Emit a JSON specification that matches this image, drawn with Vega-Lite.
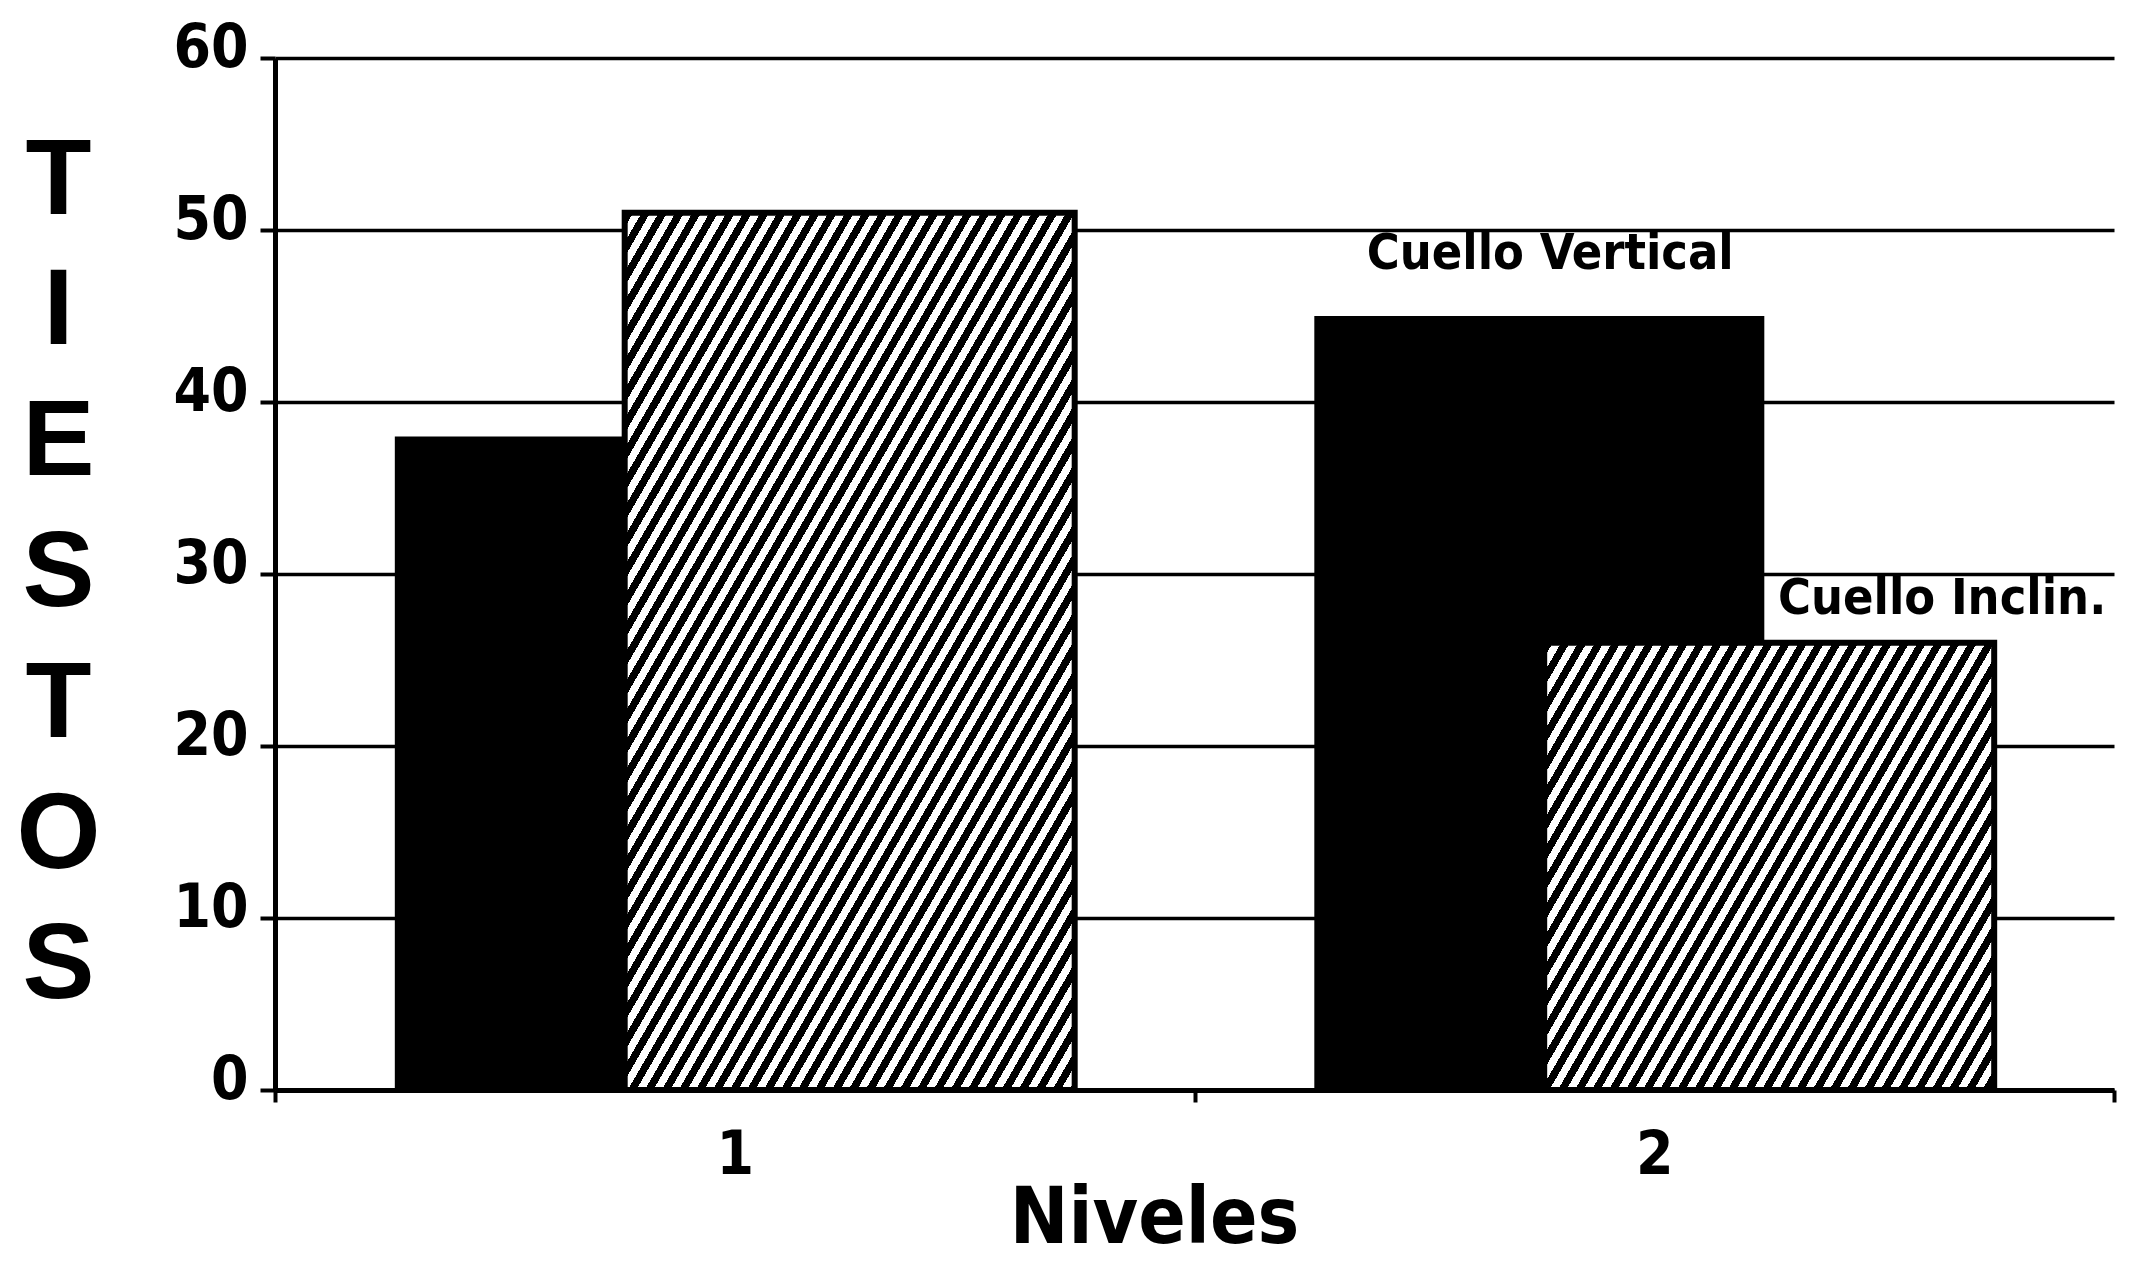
{
"$schema": "https://vega.github.io/schema/vega-lite/v6.json",
"width": 1839,
"height": 1032,
"autosize": {"type": "none"},
"padding": {"left": 275, "top": 58, "right": 16, "bottom": 182},
"background": "white",
"config": {"view": {"stroke": null}, "font": "DejaVu Sans Condensed, Liberation Sans Narrow, Roboto, Liberation Sans, sans-serif"},
"data": {"values": [
 {"Nivel": "1", "serie": "Cuello Vertical", "Tiestos": 38},
 {"Nivel": "2", "serie": "Cuello Vertical", "Tiestos": 45},
 {"Nivel": "1", "serie": "Cuello Inclin.", "Tiestos": 51},
 {"Nivel": "2", "serie": "Cuello Inclin.", "Tiestos": 26}
]},
"layer": [
 {
  "mark": {"type": "bar", "width": 450, "stroke": "#000"},
  "encoding": {
   "x": {"field": "Nivel", "type": "nominal", "scale": {"paddingInner": 0, "paddingOuter": 0},
    "axis": {"labelAngle": 0, "labelFont": "DejaVu Sans Condensed, Liberation Sans Narrow, Roboto, Liberation Sans, sans-serif", "labelFontSize": 60, "labelFontWeight": "bold", "labelColor": "#000", "labelPadding": 24,
     "tickBand": "extent", "tickColor": "#000", "tickWidth": 4, "tickSize": 12, "domainColor": "#000", "domainWidth": 5,
     "title": "Niveles", "titleFont": "DejaVu Sans Condensed, Liberation Sans Narrow, Roboto, Liberation Sans, sans-serif", "titleFontSize": 78, "titleFontWeight": "bold", "titleColor": "#000", "titleX": 879, "titleY": 152, "titleBaseline": "alphabetic", "titleAlign": "center"}},
   "xOffset": {"field": "serie", "type": "nominal", "sort": ["Cuello Vertical", "Cuello Inclin."], "scale": {"paddingInner": 0, "paddingOuter": 1}},
   "y": {"field": "Tiestos", "type": "quantitative", "stack": null, "scale": {"domain": [0, 60], "nice": false},
    "axis": {"values": [0, 10, 20, 30, 40, 50, 60], "grid": true, "gridColor": "#000", "gridWidth": 3.5, "gridOpacity": 1,
     "domainColor": "#000", "domainWidth": 5, "tickColor": "#000", "tickWidth": 4, "tickSize": 15,
     "labelFont": "DejaVu Sans Condensed, Liberation Sans Narrow, Roboto, Liberation Sans, sans-serif", "labelFontSize": 60, "labelFontWeight": "bold", "labelColor": "#000", "labelPadding": 12, "labelOffset": -10, "labelFlush": false,
     "title": ["T", "I", "E", "S", "T", "O", "S"], "titleFont": "Liberation Sans, Arial, sans-serif", "titleFontSize": 108, "titleFontWeight": "bold", "titleColor": "#000",
     "titleAngle": 0, "titleAlign": "center", "titleBaseline": "middle", "titleLineHeight": 130.8, "titleX": -217, "titleY": 123}},
   "strokeWidth": {"condition": {"test": "datum.serie === 'Cuello Vertical'", "value": 0}, "value": 6},
   "fill": {"condition": [
     {"test": "datum.serie === 'Cuello Inclin.' && datum.Nivel === '1'", "value": {"gradient": "linear", "x1": 0, "y1": 0, "x2": 1.0407, "y2": 1.171, "stops": [
{"offset":0,"color":"#000"},
{"offset":0.008,"color":"#000"},{"offset":0.008,"color":"#fff"},
{"offset":0.016,"color":"#fff"},{"offset":0.016,"color":"#000"},
{"offset":0.024,"color":"#000"},{"offset":0.024,"color":"#fff"},
{"offset":0.032,"color":"#fff"},{"offset":0.032,"color":"#000"},
{"offset":0.04,"color":"#000"},{"offset":0.04,"color":"#fff"},
{"offset":0.048,"color":"#fff"},{"offset":0.048,"color":"#000"},
{"offset":0.056,"color":"#000"},{"offset":0.056,"color":"#fff"},
{"offset":0.064,"color":"#fff"},{"offset":0.064,"color":"#000"},
{"offset":0.072,"color":"#000"},{"offset":0.072,"color":"#fff"},
{"offset":0.08,"color":"#fff"},{"offset":0.08,"color":"#000"},
{"offset":0.088,"color":"#000"},{"offset":0.088,"color":"#fff"},
{"offset":0.096,"color":"#fff"},{"offset":0.096,"color":"#000"},
{"offset":0.104,"color":"#000"},{"offset":0.104,"color":"#fff"},
{"offset":0.112,"color":"#fff"},{"offset":0.112,"color":"#000"},
{"offset":0.12,"color":"#000"},{"offset":0.12,"color":"#fff"},
{"offset":0.128,"color":"#fff"},{"offset":0.128,"color":"#000"},
{"offset":0.136,"color":"#000"},{"offset":0.136,"color":"#fff"},
{"offset":0.144,"color":"#fff"},{"offset":0.144,"color":"#000"},
{"offset":0.152,"color":"#000"},{"offset":0.152,"color":"#fff"},
{"offset":0.16,"color":"#fff"},{"offset":0.16,"color":"#000"},
{"offset":0.168,"color":"#000"},{"offset":0.168,"color":"#fff"},
{"offset":0.176,"color":"#fff"},{"offset":0.176,"color":"#000"},
{"offset":0.184,"color":"#000"},{"offset":0.184,"color":"#fff"},
{"offset":0.192,"color":"#fff"},{"offset":0.192,"color":"#000"},
{"offset":0.2,"color":"#000"},{"offset":0.2,"color":"#fff"},
{"offset":0.208,"color":"#fff"},{"offset":0.208,"color":"#000"},
{"offset":0.216,"color":"#000"},{"offset":0.216,"color":"#fff"},
{"offset":0.224,"color":"#fff"},{"offset":0.224,"color":"#000"},
{"offset":0.232,"color":"#000"},{"offset":0.232,"color":"#fff"},
{"offset":0.24,"color":"#fff"},{"offset":0.24,"color":"#000"},
{"offset":0.248,"color":"#000"},{"offset":0.248,"color":"#fff"},
{"offset":0.256,"color":"#fff"},{"offset":0.256,"color":"#000"},
{"offset":0.264,"color":"#000"},{"offset":0.264,"color":"#fff"},
{"offset":0.272,"color":"#fff"},{"offset":0.272,"color":"#000"},
{"offset":0.28,"color":"#000"},{"offset":0.28,"color":"#fff"},
{"offset":0.288,"color":"#fff"},{"offset":0.288,"color":"#000"},
{"offset":0.296,"color":"#000"},{"offset":0.296,"color":"#fff"},
{"offset":0.304,"color":"#fff"},{"offset":0.304,"color":"#000"},
{"offset":0.312,"color":"#000"},{"offset":0.312,"color":"#fff"},
{"offset":0.32,"color":"#fff"},{"offset":0.32,"color":"#000"},
{"offset":0.328,"color":"#000"},{"offset":0.328,"color":"#fff"},
{"offset":0.336,"color":"#fff"},{"offset":0.336,"color":"#000"},
{"offset":0.344,"color":"#000"},{"offset":0.344,"color":"#fff"},
{"offset":0.352,"color":"#fff"},{"offset":0.352,"color":"#000"},
{"offset":0.36,"color":"#000"},{"offset":0.36,"color":"#fff"},
{"offset":0.368,"color":"#fff"},{"offset":0.368,"color":"#000"},
{"offset":0.376,"color":"#000"},{"offset":0.376,"color":"#fff"},
{"offset":0.384,"color":"#fff"},{"offset":0.384,"color":"#000"},
{"offset":0.392,"color":"#000"},{"offset":0.392,"color":"#fff"},
{"offset":0.4,"color":"#fff"},{"offset":0.4,"color":"#000"},
{"offset":0.408,"color":"#000"},{"offset":0.408,"color":"#fff"},
{"offset":0.416,"color":"#fff"},{"offset":0.416,"color":"#000"},
{"offset":0.424,"color":"#000"},{"offset":0.424,"color":"#fff"},
{"offset":0.432,"color":"#fff"},{"offset":0.432,"color":"#000"},
{"offset":0.44,"color":"#000"},{"offset":0.44,"color":"#fff"},
{"offset":0.448,"color":"#fff"},{"offset":0.448,"color":"#000"},
{"offset":0.456,"color":"#000"},{"offset":0.456,"color":"#fff"},
{"offset":0.464,"color":"#fff"},{"offset":0.464,"color":"#000"},
{"offset":0.472,"color":"#000"},{"offset":0.472,"color":"#fff"},
{"offset":0.48,"color":"#fff"},{"offset":0.48,"color":"#000"},
{"offset":0.488,"color":"#000"},{"offset":0.488,"color":"#fff"},
{"offset":0.496,"color":"#fff"},{"offset":0.496,"color":"#000"},
{"offset":0.504,"color":"#000"},{"offset":0.504,"color":"#fff"},
{"offset":0.512,"color":"#fff"},{"offset":0.512,"color":"#000"},
{"offset":0.52,"color":"#000"},{"offset":0.52,"color":"#fff"},
{"offset":0.528,"color":"#fff"},{"offset":0.528,"color":"#000"},
{"offset":0.536,"color":"#000"},{"offset":0.536,"color":"#fff"},
{"offset":0.544,"color":"#fff"},{"offset":0.544,"color":"#000"},
{"offset":0.552,"color":"#000"},{"offset":0.552,"color":"#fff"},
{"offset":0.56,"color":"#fff"},{"offset":0.56,"color":"#000"},
{"offset":0.568,"color":"#000"},{"offset":0.568,"color":"#fff"},
{"offset":0.576,"color":"#fff"},{"offset":0.576,"color":"#000"},
{"offset":0.584,"color":"#000"},{"offset":0.584,"color":"#fff"},
{"offset":0.592,"color":"#fff"},{"offset":0.592,"color":"#000"},
{"offset":0.6,"color":"#000"},{"offset":0.6,"color":"#fff"},
{"offset":0.608,"color":"#fff"},{"offset":0.608,"color":"#000"},
{"offset":0.616,"color":"#000"},{"offset":0.616,"color":"#fff"},
{"offset":0.624,"color":"#fff"},{"offset":0.624,"color":"#000"},
{"offset":0.632,"color":"#000"},{"offset":0.632,"color":"#fff"},
{"offset":0.64,"color":"#fff"},{"offset":0.64,"color":"#000"},
{"offset":0.648,"color":"#000"},{"offset":0.648,"color":"#fff"},
{"offset":0.656,"color":"#fff"},{"offset":0.656,"color":"#000"},
{"offset":0.664,"color":"#000"},{"offset":0.664,"color":"#fff"},
{"offset":0.672,"color":"#fff"},{"offset":0.672,"color":"#000"},
{"offset":0.68,"color":"#000"},{"offset":0.68,"color":"#fff"},
{"offset":0.688,"color":"#fff"},{"offset":0.688,"color":"#000"},
{"offset":0.696,"color":"#000"},{"offset":0.696,"color":"#fff"},
{"offset":0.704,"color":"#fff"},{"offset":0.704,"color":"#000"},
{"offset":0.712,"color":"#000"},{"offset":0.712,"color":"#fff"},
{"offset":0.72,"color":"#fff"},{"offset":0.72,"color":"#000"},
{"offset":0.728,"color":"#000"},{"offset":0.728,"color":"#fff"},
{"offset":0.736,"color":"#fff"},{"offset":0.736,"color":"#000"},
{"offset":0.744,"color":"#000"},{"offset":0.744,"color":"#fff"},
{"offset":0.752,"color":"#fff"},{"offset":0.752,"color":"#000"},
{"offset":0.76,"color":"#000"},{"offset":0.76,"color":"#fff"},
{"offset":0.768,"color":"#fff"},{"offset":0.768,"color":"#000"},
{"offset":0.776,"color":"#000"},{"offset":0.776,"color":"#fff"},
{"offset":0.784,"color":"#fff"},{"offset":0.784,"color":"#000"},
{"offset":0.792,"color":"#000"},{"offset":0.792,"color":"#fff"},
{"offset":0.8,"color":"#fff"},{"offset":0.8,"color":"#000"},
{"offset":0.808,"color":"#000"},{"offset":0.808,"color":"#fff"},
{"offset":0.816,"color":"#fff"},{"offset":0.816,"color":"#000"},
{"offset":0.824,"color":"#000"},{"offset":0.824,"color":"#fff"},
{"offset":0.832,"color":"#fff"},{"offset":0.832,"color":"#000"},
{"offset":0.84,"color":"#000"},{"offset":0.84,"color":"#fff"},
{"offset":0.848,"color":"#fff"},{"offset":0.848,"color":"#000"},
{"offset":0.856,"color":"#000"},{"offset":0.856,"color":"#fff"},
{"offset":0.864,"color":"#fff"},{"offset":0.864,"color":"#000"},
{"offset":0.872,"color":"#000"},{"offset":0.872,"color":"#fff"},
{"offset":0.88,"color":"#fff"},{"offset":0.88,"color":"#000"},
{"offset":0.888,"color":"#000"},{"offset":0.888,"color":"#fff"},
{"offset":0.896,"color":"#fff"},{"offset":0.896,"color":"#000"},
{"offset":0.904,"color":"#000"},{"offset":0.904,"color":"#fff"},
{"offset":0.912,"color":"#fff"},{"offset":0.912,"color":"#000"},
{"offset":0.92,"color":"#000"},{"offset":0.92,"color":"#fff"},
{"offset":0.928,"color":"#fff"},{"offset":0.928,"color":"#000"},
{"offset":0.936,"color":"#000"},{"offset":0.936,"color":"#fff"},
{"offset":0.944,"color":"#fff"},{"offset":0.944,"color":"#000"},
{"offset":0.952,"color":"#000"},{"offset":0.952,"color":"#fff"},
{"offset":0.96,"color":"#fff"},{"offset":0.96,"color":"#000"},
{"offset":0.968,"color":"#000"},{"offset":0.968,"color":"#fff"},
{"offset":0.976,"color":"#fff"},{"offset":0.976,"color":"#000"},
{"offset":0.984,"color":"#000"},{"offset":0.984,"color":"#fff"},
{"offset":0.992,"color":"#fff"},{"offset":0.992,"color":"#000"},
{"offset":1,"color":"#000"}
     ]}},
     {"test": "datum.serie === 'Cuello Inclin.' && datum.Nivel === '2'", "value": {"gradient": "linear", "x1": 0, "y1": 0, "x2": 1.7746, "y2": 1.0178, "stops": [
{"offset":0,"color":"#000"},
{"offset":0.008,"color":"#000"},{"offset":0.008,"color":"#fff"},
{"offset":0.016,"color":"#fff"},{"offset":0.016,"color":"#000"},
{"offset":0.024,"color":"#000"},{"offset":0.024,"color":"#fff"},
{"offset":0.032,"color":"#fff"},{"offset":0.032,"color":"#000"},
{"offset":0.04,"color":"#000"},{"offset":0.04,"color":"#fff"},
{"offset":0.048,"color":"#fff"},{"offset":0.048,"color":"#000"},
{"offset":0.056,"color":"#000"},{"offset":0.056,"color":"#fff"},
{"offset":0.064,"color":"#fff"},{"offset":0.064,"color":"#000"},
{"offset":0.072,"color":"#000"},{"offset":0.072,"color":"#fff"},
{"offset":0.08,"color":"#fff"},{"offset":0.08,"color":"#000"},
{"offset":0.088,"color":"#000"},{"offset":0.088,"color":"#fff"},
{"offset":0.096,"color":"#fff"},{"offset":0.096,"color":"#000"},
{"offset":0.104,"color":"#000"},{"offset":0.104,"color":"#fff"},
{"offset":0.112,"color":"#fff"},{"offset":0.112,"color":"#000"},
{"offset":0.12,"color":"#000"},{"offset":0.12,"color":"#fff"},
{"offset":0.128,"color":"#fff"},{"offset":0.128,"color":"#000"},
{"offset":0.136,"color":"#000"},{"offset":0.136,"color":"#fff"},
{"offset":0.144,"color":"#fff"},{"offset":0.144,"color":"#000"},
{"offset":0.152,"color":"#000"},{"offset":0.152,"color":"#fff"},
{"offset":0.16,"color":"#fff"},{"offset":0.16,"color":"#000"},
{"offset":0.168,"color":"#000"},{"offset":0.168,"color":"#fff"},
{"offset":0.176,"color":"#fff"},{"offset":0.176,"color":"#000"},
{"offset":0.184,"color":"#000"},{"offset":0.184,"color":"#fff"},
{"offset":0.192,"color":"#fff"},{"offset":0.192,"color":"#000"},
{"offset":0.2,"color":"#000"},{"offset":0.2,"color":"#fff"},
{"offset":0.208,"color":"#fff"},{"offset":0.208,"color":"#000"},
{"offset":0.216,"color":"#000"},{"offset":0.216,"color":"#fff"},
{"offset":0.224,"color":"#fff"},{"offset":0.224,"color":"#000"},
{"offset":0.232,"color":"#000"},{"offset":0.232,"color":"#fff"},
{"offset":0.24,"color":"#fff"},{"offset":0.24,"color":"#000"},
{"offset":0.248,"color":"#000"},{"offset":0.248,"color":"#fff"},
{"offset":0.256,"color":"#fff"},{"offset":0.256,"color":"#000"},
{"offset":0.264,"color":"#000"},{"offset":0.264,"color":"#fff"},
{"offset":0.272,"color":"#fff"},{"offset":0.272,"color":"#000"},
{"offset":0.28,"color":"#000"},{"offset":0.28,"color":"#fff"},
{"offset":0.288,"color":"#fff"},{"offset":0.288,"color":"#000"},
{"offset":0.296,"color":"#000"},{"offset":0.296,"color":"#fff"},
{"offset":0.304,"color":"#fff"},{"offset":0.304,"color":"#000"},
{"offset":0.312,"color":"#000"},{"offset":0.312,"color":"#fff"},
{"offset":0.32,"color":"#fff"},{"offset":0.32,"color":"#000"},
{"offset":0.328,"color":"#000"},{"offset":0.328,"color":"#fff"},
{"offset":0.336,"color":"#fff"},{"offset":0.336,"color":"#000"},
{"offset":0.344,"color":"#000"},{"offset":0.344,"color":"#fff"},
{"offset":0.352,"color":"#fff"},{"offset":0.352,"color":"#000"},
{"offset":0.36,"color":"#000"},{"offset":0.36,"color":"#fff"},
{"offset":0.368,"color":"#fff"},{"offset":0.368,"color":"#000"},
{"offset":0.376,"color":"#000"},{"offset":0.376,"color":"#fff"},
{"offset":0.384,"color":"#fff"},{"offset":0.384,"color":"#000"},
{"offset":0.392,"color":"#000"},{"offset":0.392,"color":"#fff"},
{"offset":0.4,"color":"#fff"},{"offset":0.4,"color":"#000"},
{"offset":0.408,"color":"#000"},{"offset":0.408,"color":"#fff"},
{"offset":0.416,"color":"#fff"},{"offset":0.416,"color":"#000"},
{"offset":0.424,"color":"#000"},{"offset":0.424,"color":"#fff"},
{"offset":0.432,"color":"#fff"},{"offset":0.432,"color":"#000"},
{"offset":0.44,"color":"#000"},{"offset":0.44,"color":"#fff"},
{"offset":0.448,"color":"#fff"},{"offset":0.448,"color":"#000"},
{"offset":0.456,"color":"#000"},{"offset":0.456,"color":"#fff"},
{"offset":0.464,"color":"#fff"},{"offset":0.464,"color":"#000"},
{"offset":0.472,"color":"#000"},{"offset":0.472,"color":"#fff"},
{"offset":0.48,"color":"#fff"},{"offset":0.48,"color":"#000"},
{"offset":0.488,"color":"#000"},{"offset":0.488,"color":"#fff"},
{"offset":0.496,"color":"#fff"},{"offset":0.496,"color":"#000"},
{"offset":0.504,"color":"#000"},{"offset":0.504,"color":"#fff"},
{"offset":0.512,"color":"#fff"},{"offset":0.512,"color":"#000"},
{"offset":0.52,"color":"#000"},{"offset":0.52,"color":"#fff"},
{"offset":0.528,"color":"#fff"},{"offset":0.528,"color":"#000"},
{"offset":0.536,"color":"#000"},{"offset":0.536,"color":"#fff"},
{"offset":0.544,"color":"#fff"},{"offset":0.544,"color":"#000"},
{"offset":0.552,"color":"#000"},{"offset":0.552,"color":"#fff"},
{"offset":0.56,"color":"#fff"},{"offset":0.56,"color":"#000"},
{"offset":0.568,"color":"#000"},{"offset":0.568,"color":"#fff"},
{"offset":0.576,"color":"#fff"},{"offset":0.576,"color":"#000"},
{"offset":0.584,"color":"#000"},{"offset":0.584,"color":"#fff"},
{"offset":0.592,"color":"#fff"},{"offset":0.592,"color":"#000"},
{"offset":0.6,"color":"#000"},{"offset":0.6,"color":"#fff"},
{"offset":0.608,"color":"#fff"},{"offset":0.608,"color":"#000"},
{"offset":0.616,"color":"#000"},{"offset":0.616,"color":"#fff"},
{"offset":0.624,"color":"#fff"},{"offset":0.624,"color":"#000"},
{"offset":0.632,"color":"#000"},{"offset":0.632,"color":"#fff"},
{"offset":0.64,"color":"#fff"},{"offset":0.64,"color":"#000"},
{"offset":0.648,"color":"#000"},{"offset":0.648,"color":"#fff"},
{"offset":0.656,"color":"#fff"},{"offset":0.656,"color":"#000"},
{"offset":0.664,"color":"#000"},{"offset":0.664,"color":"#fff"},
{"offset":0.672,"color":"#fff"},{"offset":0.672,"color":"#000"},
{"offset":0.68,"color":"#000"},{"offset":0.68,"color":"#fff"},
{"offset":0.688,"color":"#fff"},{"offset":0.688,"color":"#000"},
{"offset":0.696,"color":"#000"},{"offset":0.696,"color":"#fff"},
{"offset":0.704,"color":"#fff"},{"offset":0.704,"color":"#000"},
{"offset":0.712,"color":"#000"},{"offset":0.712,"color":"#fff"},
{"offset":0.72,"color":"#fff"},{"offset":0.72,"color":"#000"},
{"offset":0.728,"color":"#000"},{"offset":0.728,"color":"#fff"},
{"offset":0.736,"color":"#fff"},{"offset":0.736,"color":"#000"},
{"offset":0.744,"color":"#000"},{"offset":0.744,"color":"#fff"},
{"offset":0.752,"color":"#fff"},{"offset":0.752,"color":"#000"},
{"offset":0.76,"color":"#000"},{"offset":0.76,"color":"#fff"},
{"offset":0.768,"color":"#fff"},{"offset":0.768,"color":"#000"},
{"offset":0.776,"color":"#000"},{"offset":0.776,"color":"#fff"},
{"offset":0.784,"color":"#fff"},{"offset":0.784,"color":"#000"},
{"offset":0.792,"color":"#000"},{"offset":0.792,"color":"#fff"},
{"offset":0.8,"color":"#fff"},{"offset":0.8,"color":"#000"},
{"offset":0.808,"color":"#000"},{"offset":0.808,"color":"#fff"},
{"offset":0.816,"color":"#fff"},{"offset":0.816,"color":"#000"},
{"offset":0.824,"color":"#000"},{"offset":0.824,"color":"#fff"},
{"offset":0.832,"color":"#fff"},{"offset":0.832,"color":"#000"},
{"offset":0.84,"color":"#000"},{"offset":0.84,"color":"#fff"},
{"offset":0.848,"color":"#fff"},{"offset":0.848,"color":"#000"},
{"offset":0.856,"color":"#000"},{"offset":0.856,"color":"#fff"},
{"offset":0.864,"color":"#fff"},{"offset":0.864,"color":"#000"},
{"offset":0.872,"color":"#000"},{"offset":0.872,"color":"#fff"},
{"offset":0.88,"color":"#fff"},{"offset":0.88,"color":"#000"},
{"offset":0.888,"color":"#000"},{"offset":0.888,"color":"#fff"},
{"offset":0.896,"color":"#fff"},{"offset":0.896,"color":"#000"},
{"offset":0.904,"color":"#000"},{"offset":0.904,"color":"#fff"},
{"offset":0.912,"color":"#fff"},{"offset":0.912,"color":"#000"},
{"offset":0.92,"color":"#000"},{"offset":0.92,"color":"#fff"},
{"offset":0.928,"color":"#fff"},{"offset":0.928,"color":"#000"},
{"offset":0.936,"color":"#000"},{"offset":0.936,"color":"#fff"},
{"offset":0.944,"color":"#fff"},{"offset":0.944,"color":"#000"},
{"offset":0.952,"color":"#000"},{"offset":0.952,"color":"#fff"},
{"offset":0.96,"color":"#fff"},{"offset":0.96,"color":"#000"},
{"offset":0.968,"color":"#000"},{"offset":0.968,"color":"#fff"},
{"offset":0.976,"color":"#fff"},{"offset":0.976,"color":"#000"},
{"offset":0.984,"color":"#000"},{"offset":0.984,"color":"#fff"},
{"offset":0.992,"color":"#fff"},{"offset":0.992,"color":"#000"},
{"offset":1,"color":"#000"}
     ]}}
    ], "value": "#000"}
  }
 },
 {
  "transform": [{"filter": "datum.Nivel === '2' && datum.serie === 'Cuello Vertical'"}],
  "mark": {"type": "text", "font": "DejaVu Sans Condensed, Liberation Sans Narrow, Roboto, Liberation Sans, sans-serif", "fontWeight": "bold", "fontSize": 50, "dx": -104, "dy": -47, "baseline": "alphabetic", "align": "center", "color": "#000"},
  "encoding": {
   "x": {"field": "Nivel", "type": "nominal"},
   "y": {"field": "Tiestos", "type": "quantitative"},
   "text": {"field": "serie"}
  }
 },
 {
  "transform": [{"filter": "datum.Nivel === '2' && datum.serie === 'Cuello Inclin.'"}],
  "mark": {"type": "text", "font": "DejaVu Sans Condensed, Liberation Sans Narrow, Roboto, Liberation Sans, sans-serif", "fontWeight": "bold", "fontSize": 50, "dx": 452, "dy": -29, "baseline": "alphabetic", "align": "right", "color": "#000"},
  "encoding": {
   "x": {"field": "Nivel", "type": "nominal"},
   "y": {"field": "Tiestos", "type": "quantitative"},
   "text": {"field": "serie"}
  }
 }
]
}
